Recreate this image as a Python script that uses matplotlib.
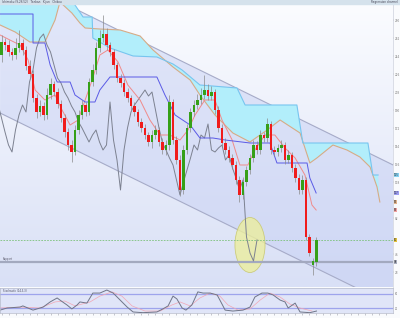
import numpy as np
import matplotlib.pyplot as plt
from matplotlib.patches import Ellipse, Rectangle
from matplotlib.colors import LinearSegmentedColormap

# daily candles (price units), bar index 0..90
opens = [245, 258, 255, 248, 245, 252, 257, 250, 234, 226, 202, 188, 194, 185, 205, 216, 208, 196, 182, 168,
         155, 148, 170, 185, 195, 188, 218, 230, 252, 262, 266, 255, 248, 235, 222, 217, 208, 202, 194, 188,
         178, 172, 165, 158, 165, 170, 158, 150, 155, 198, 160, 140, 110, 150, 172, 188, 195, 200, 205, 210,
         204, 208, 190, 172, 157, 150, 142, 135, 120, 105, 118, 130, 142, 155, 150, 165, 162, 176, 150, 148,
         152, 155, 140, 145, 132, 122, 110, 120, 63, 35, 38]
closes = [258, 255, 248, 245, 252, 257, 250, 234, 226, 202, 188, 194, 185, 205, 216, 208, 196, 182, 168, 155,
          148, 170, 185, 195, 188, 218, 230, 252, 262, 266, 255, 248, 235, 222, 217, 208, 202, 194, 188, 178,
          172, 165, 158, 165, 170, 158, 150, 155, 198, 160, 140, 110, 150, 172, 188, 195, 200, 205, 210, 204,
          208, 190, 172, 157, 150, 142, 135, 120, 105, 118, 130, 142, 155, 150, 165, 162, 176, 150, 148, 152,
          155, 140, 145, 132, 122, 110, 120, 63, 47, 39, 60]
highs = [265, 262, 260, 252, 262, 270, 261, 254, 240, 230, 206, 200, 198, 212, 222, 219, 212, 200, 186, 172,
         160, 175, 190, 200, 198, 222, 236, 258, 270, 285, 272, 258, 251, 238, 226, 221, 212, 205, 198, 191,
         182, 176, 168, 170, 175, 173, 162, 160, 205, 201, 164, 145, 155, 176, 192, 200, 206, 212, 225, 216,
         214, 211, 194, 176, 162, 154, 146, 139, 124, 123, 134, 146, 160, 159, 170, 168, 182, 179, 154, 156,
         160, 158, 150, 148, 136, 126, 125, 123, 66, 42, 63]
lows = [238, 250, 244, 240, 241, 248, 245, 230, 221, 198, 182, 184, 180, 181, 201, 204, 192, 178, 163, 150,
        138, 145, 166, 181, 184, 185, 214, 226, 248, 258, 250, 244, 231, 218, 213, 204, 198, 190, 184, 174,
        168, 161, 154, 152, 161, 154, 146, 145, 150, 156, 136, 104, 106, 146, 168, 184, 191, 196, 201, 200,
        200, 186, 168, 153, 146, 138, 131, 116, 98, 101, 114, 126, 138, 146, 146, 158, 158, 146, 144, 144,
        148, 136, 137, 128, 118, 106, 106, 60, 44, 25, 34]

# ichimoku lines as (bar, price) knots
tenkan_x = [-0.4, 2.4, 5.3, 7.6, 9.6, 12.4, 15.3, 17.3, 19.6, 21.9, 23.9, 25.9, 28.1, 30.4, 33.3, 36.1,
            39.6, 42.4, 45.3, 48.1, 51.0, 53.3, 55.3, 58.1, 61.0, 63.0, 65.9, 68.1, 70.4, 72.4, 75.3, 78.1,
            81.0, 83.9, 86.7, 88.7, 89.9]
tenkan_y = [265, 260, 255, 240, 210, 200, 205, 190, 175, 180, 200, 220, 245, 250, 238, 215,
            200, 180, 165, 165, 160, 170, 185, 200, 200, 180, 160, 135, 135, 150, 165, 165,
            152, 142, 125, 95, 90]
kijun_x = [-0.4, 9.0, 9.0, 12.4, 13.9, 15.9, 19.6, 21.0, 23.9, 26.7, 28.1, 31.0, 44.4, 46.7, 49.6, 53.9,
           56.7, 60.4, 63.9, 71.0, 76.7, 78.7, 87.3, 88.1, 89.9]
kijun_y = [286, 286, 257, 257, 235, 218, 218, 205, 198, 198, 210, 223, 223, 205, 185, 175,
           162, 162, 160, 157, 157, 137, 137, 122, 107]
span_a_x = [-0.4, 3.9, 8.1, 12.4, 15.3, 16.7, 20.1, 22.4, 23.9, 28.1, 33.9, 39.6, 43.3, 49.0, 53.9, 56.7,
            61.0, 66.1, 71.0, 75.9, 79.6, 85.3, 88.1, 90.1, 94.7, 98.7, 102.4, 105.3, 107.3, 108.1]
span_a_y = [275, 268, 258, 258, 280, 298, 287, 277, 272, 271, 270, 264, 250, 233, 220, 205,
            185, 167, 158, 170, 180, 167, 137, 142, 155, 150, 143, 133, 113, 98]
span_b_x = [-0.4, 16.7, 21.0, 23.3, 25.9, 26.1, 31.0, 37.6, 44.4, 49.0, 51.6, 56.7, 67.3, 69.6, 84.4, 86.1,
            104.7, 106.1, 107.6]
span_b_y = [305, 305, 295, 283, 283, 262, 252, 244, 243, 236, 230, 215, 212, 195, 195, 157,
            157, 125, 125]
chikou_shift = 17

# regression channel end points (bar, price)
chan_x = [-0.4, 111.9]
chan_top = [328, 135]
chan_bot = [187, -6]

support_level = 38

# stochastic %K / %D knots (bar, value)
stoch_k_x = [-0.4, 1.6, 5.3, 6.1, 9.0, 11.9, 13.9, 15.9, 16.7, 18.7, 20.1, 21.6, 22.4, 24.4, 26.1, 28.1,
             30.1, 31.9, 33.9, 35.9, 37.6, 40.4, 44.4, 46.1, 47.6, 49.0, 50.1, 51.6, 52.7, 54.4, 56.1, 57.6,
             59.6, 61.6, 62.4, 63.9, 66.1, 69.0, 71.0, 72.4, 74.4, 76.1, 77.6, 79.6, 81.0, 81.9, 83.9, 85.3,
             88.1, 90.0]
stoch_k_y = [11, 20, 24, 29, 11, 24, 46, 63, 54, 33, 16, 33, 46, 41, 84, 84,
             97, 84, 54, 24, 3, 0, 3, 16, 29, 71, 59, 20, 11, 33, 89, 84,
             84, 76, 54, 11, 7, 11, 24, 67, 84, 84, 76, 54, 46, 20, 41, 3,
             0, 7]
stoch_d_x = [-0.4, 5.3, 11.0, 15.3, 18.1, 21.0, 25.3, 28.1, 31.6, 34.4, 37.3, 41.0, 45.3, 48.7, 51.0, 53.9,
             56.7, 59.6, 62.4, 64.7, 67.6, 71.0, 73.9, 76.7, 79.6, 82.4, 85.3, 88.7]
stoch_d_y = [20, 24, 20, 46, 50, 29, 46, 71, 89, 71, 29, 7, 7, 33, 46, 29,
             63, 84, 71, 33, 11, 16, 54, 84, 67, 37, 20, 7]

bar_idx = np.arange(len(closes))
x0, x1 = -0.43, 111.86
y0, y1 = 13, 296

W, H = 400, 318


def rect(left, top, w, h):
    return [left / W, 1 - (top + h) / H, w / W, h / H]


fig = plt.figure(figsize=(W / 100, H / 100), dpi=100)
fig.patch.set_facecolor('#fafbfd')
fig.patches.append(Rectangle((0, 1 - 4 / H), 1, 4 / H, transform=fig.transFigure,
                             color='#d5e2ec', zorder=0))
fig.text(0.005, 1 - 2 / H, 'Ichimoku (9,26,52)   Tenkan   Kijun   Chikou', fontsize=2,
         color='#445', va='center')
fig.text(0.995, 1 - 2 / H, 'Regression channel', fontsize=2, color='#445', va='center', ha='right')

ax = fig.add_axes(rect(0, 4, 393, 283))
sx = fig.add_axes(rect(0, 288, 393, 25), sharex=ax)

# background gradient
bg = LinearSegmentedColormap.from_list('bg', ['#fbfcff', '#d9e0f6'])
ax.imshow(np.linspace(0, 1, 256).reshape(-1, 1), extent=(x0, x1, y0, y1), cmap=bg,
          aspect='auto', origin='upper', zorder=0)

# regression channel
ax.fill_between(chan_x, chan_bot, chan_top, color='#c3cdf3', alpha=0.45, lw=0, zorder=1)
ax.plot(chan_x, chan_top, color='#a6abc8', lw=0.8, zorder=1.5)
ax.plot(chan_x, chan_bot, color='#a6abc8', lw=0.8, zorder=1.5)

# kumo
ax.fill(np.r_[span_a_x, span_b_x[::-1]], np.r_[span_a_y, span_b_y[::-1]],
        color='#b2eefb', lw=0, zorder=2)
ax.plot(span_a_x, span_a_y, color='#d7ab86', lw=0.8, zorder=2.5)
ax.plot(span_b_x, span_b_y, color='#77c5ef', lw=0.8, zorder=2.5)

# target zone around the chikou low
ax.add_patch(Ellipse((71, 55), 8.6, 55, facecolor='#ecee9e', edgecolor='#c6c66a',
                     lw=0.6, alpha=0.8, zorder=3))

# levels
ax.axhline(support_level, color='#a3a9bf', lw=1.6, zorder=3.2)
ax.axhline(closes[-1], color='#7cc27c', lw=0.6, ls=(0, (2, 1.5)), zorder=3.2)
ax.text(0.3, support_level + 2, 'Support', fontsize=1.8, color='#556', zorder=4)

ax.plot(bar_idx - chikou_shift, closes, color='#7c8190', lw=0.7, zorder=4)
ax.plot(tenkan_x, tenkan_y, color='#f08a8a', lw=0.7, zorder=4)
ax.plot(kijun_x, kijun_y, color='#5a5ae6', lw=0.7, zorder=4)

# candles
o = np.array(opens)
c = np.array(closes)
up = c >= o
ax.vlines(bar_idx, lows, highs, color='#8a8a8a', lw=0.5, zorder=5)
ax.bar(bar_idx, c - o, bottom=o, width=0.65, color=np.where(up, '#36a018', '#f01c1c'),
       lw=0, zorder=6)

# value tags on the price scale; plain tick labels give way to them
tags = [(span_b_y[-1], '#86d2f2'), (kijun_y[-1], '#9a9cf0'), (span_a_y[-1], '#e2b48c'),
        (tenkan_y[-1], '#f2a0a0'), (closes[-1], '#e3c23a'), (support_level, '#a8adbf')]
tag_vals = [v for v, _ in tags]

ax.set_xlim(x0, x1)
ax.set_ylim(y0, y1)
tick_levels = [280, 262, 244, 226, 208, 190, 172, 154, 136, 118, 100, 82, 64, 46, 28]
ax.yaxis.tick_right()
ax.set_yticks(tick_levels)
ax.set_yticklabels(['' if min(abs(v - t) for t in tag_vals) < 6 else str(v) for v in tick_levels])
ax.tick_params(axis='y', labelsize=2, colors='#777', length=0.8, width=0.3, pad=0.4)
ax.tick_params(axis='x', bottom=False, labelbottom=False)
for side in ['top', 'left', 'bottom']:
    ax.spines[side].set_visible(False)
ax.spines['right'].set_color('#cdd1dc')
ax.spines['right'].set_linewidth(0.5)

for val, col in tags:
    ax.text(1.002, val, str(val), transform=ax.get_yaxis_transform(), fontsize=1.8,
            color='#333', va='center', ha='left', clip_on=False,
            bbox=dict(boxstyle='square,pad=0.1', fc=col, ec='none'))

# stochastic panel
sx.set_facecolor('#e0e5f8')
sx.axhline(80, color='#9ea4ec', lw=0.9)
sx.axhline(20, color='#9ea4ec', lw=0.9)
sx.plot(stoch_d_x, stoch_d_y, color='#f2a6b4', lw=0.5)
sx.plot(stoch_k_x, stoch_k_y, color='#6f7588', lw=0.7)
sx.set_ylim(-1.4, 105.7)
sx.text(0.3, 101, 'Stochastic (14,3,3)', fontsize=1.8, color='#445', va='top')
sx.yaxis.tick_right()
sx.set_yticks([80, 20])
sx.tick_params(axis='y', labelsize=1.8, colors='#777', length=0.8, width=0.3, pad=0.4)
sx.set_xticks(np.arange(0, 112, 2))
sx.tick_params(axis='x', labelbottom=False, length=1.6, width=0.4, colors='#9a9ca8')
for side in ['top', 'left', 'bottom', 'right']:
    sx.spines[side].set_color('#b6bacb')
    sx.spines[side].set_linewidth(0.5)

fig.savefig('out.png', dpi=100)
